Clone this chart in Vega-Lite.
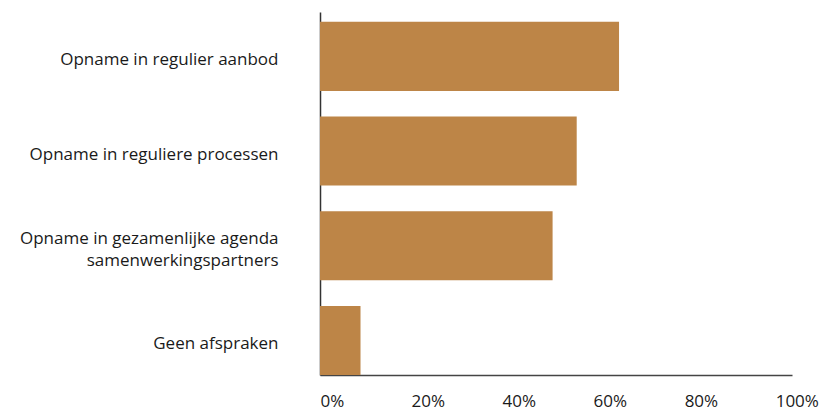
{
  "$schema": "https://vega.github.io/schema/vega-lite/v6.json",
  "width": 472,
  "height": 363,
  "autosize": {"type": "none"},
  "padding": {"left": 320, "top": 12, "right": 28, "bottom": 36},
  "background": "white",
  "config": {"view": {"stroke": null}, "font": "Open Sans"},
  "data": {
    "values": [
      {"cat": "Opname in regulier aanbod", "pct": 65.7},
      {"cat": "Opname in reguliere processen", "pct": 56.4},
      {"cat": "Opname in gezamenlijke agenda|samenwerkingspartners", "pct": 51.1},
      {"cat": "Geen afspraken", "pct": 8.9}
    ]
  },
  "mark": {"type": "bar", "color": "#bd8547"},
  "encoding": {
    "y": {
      "field": "cat",
      "type": "nominal",
      "sort": null,
      "scale": {"paddingInner": 0.271, "paddingOuter": 0.052, "align": 1},
      "axis": {
        "title": null,
        "ticks": false,
        "domainColor": "#333333",
        "domainWidth": 1.5,
        "labelPadding": 42,
        "labelFontSize": 17,
        "labelColor": "#1a1a1a",
        "labelLimit": 320,
        "labelLineHeight": 22,
        "labelOffset": {"condition": {"test": "indexof(datum.value, '|') >= 0", "value": -7}, "value": 4},
        "labelExpr": "split(datum.label, '|')"
      }
    },
    "x": {
      "field": "pct",
      "type": "quantitative",
      "scale": {"domain": [0, 103.7], "nice": false, "zero": true},
      "axis": {
        "title": null,
        "grid": false,
        "ticks": false,
        "values": [0, 20, 40, 60, 80, 100],
        "labelExpr": "datum.value + '%'",
        "labelAlign": "left",
        "labelFlush": false,
        "labelPadding": 18,
        "labelFontSize": 17,
        "labelColor": "#1a1a1a",
        "domainColor": "#444444",
        "domainWidth": 1.5
      }
    }
  }
}
